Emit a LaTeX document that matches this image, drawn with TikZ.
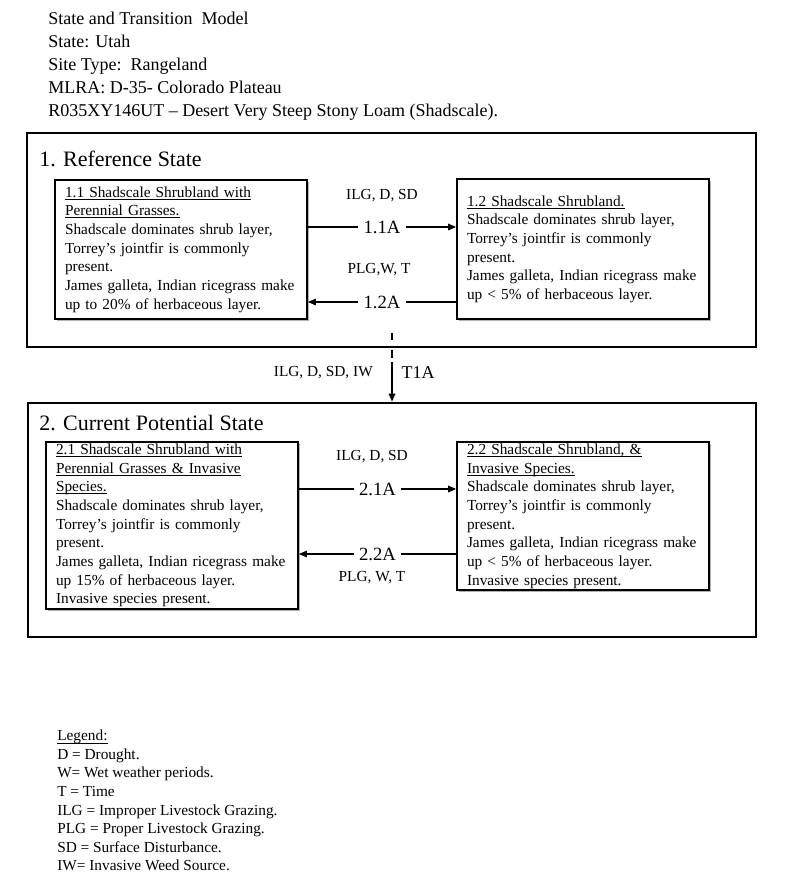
\documentclass[tikz,border=0pt]{standalone}
\usepackage{fontspec}
\setmainfont{Liberation Serif}
\usetikzlibrary{arrows.meta}
\usetikzlibrary{shadows}

\newcommand{\phaseul}[1]{\underline{\smash{#1}}\vphantom{#1}}

\tikzset{
  outerstate/.style={draw, line width=2.2pt, inner sep=0pt},
  statetitle/.style={anchor=west, inner sep=0pt, font=\fontsize{16.5}{20}\selectfont},
  phasebox/.style={draw, line width=1.4pt, fill=white, align=left, text width=174pt,
    inner xsep=7.5pt, inner ysep=1pt, font=\fontsize{11.5}{14}\selectfont,
    drop shadow={shadow xshift=1.6pt, shadow yshift=-1.6pt, fill=black, opacity=.3}},
  pathway/.style={line width=0.8pt, -{Triangle[length=6pt,width=5pt]}},
  pathcode/.style={fill=white, inner xsep=4pt, inner ysep=1pt, font=\fontsize{14}{16}\selectfont},
  pathcause/.style={inner sep=0pt, font=\fontsize{11.5}{14}\selectfont},
}

\begin{document}
\begin{tikzpicture}[x=0.75pt,y=-0.75pt]
            \fill[white] (0,0) rectangle (800,896);
            \useasboundingbox (0,0) rectangle (800,896);
            % header
            \node[anchor=north west, align=left, inner sep=0pt, font=\fontsize{13.5}{17.25}\selectfont] (header) at (48,12)
              {State and Transition\ \ Model\\State: Utah\\Site Type:\ \ Rangeland\\MLRA: D-35- Colorado Plateau\\R035XY146UT -- Desert Very Steep Stony Loam (Shadscale).};
            % states
            \node[outerstate, minimum width=546.75pt, minimum height=160.5pt] (refstate) at (391.5,240) {};
            \node[statetitle] (reftitle) at (39,159) {1. Reference State};
            \node[outerstate, minimum width=546pt, minimum height=175.5pt] (curstate) at (392,520) {};
            \node[statetitle] (curtitle) at (39,423) {2. Current Potential State};
            % community phases
            \node[phasebox, minimum height=104.25pt] (p11) at (181,249.5) {\phaseul{1.1 Shadscale Shrubland with}\\\phaseul{Perennial Grasses.}\\Shadscale dominates shrub layer,\\Torrey’s jointfir is commonly\\present.\\James galleta, Indian ricegrass make\\up to 20\% of herbaceous layer.};
            \node[phasebox, minimum height=105pt] (p12) at (583,249) {\phaseul{1.2 Shadscale Shrubland.}\\Shadscale dominates shrub layer,\\Torrey’s jointfir is commonly\\present.\\James galleta, Indian ricegrass make\\up < 5\% of herbaceous layer.};
            \node[phasebox, minimum height=125.25pt] (p21) at (172,525.5) {\phaseul{2.1 Shadscale Shrubland with}\\\phaseul{Perennial Grasses \& Invasive}\\\phaseul{Species.}\\Shadscale dominates shrub layer,\\Torrey’s jointfir is commonly\\present.\\James galleta, Indian ricegrass make\\up 15\% of herbaceous layer.\\Invasive species present.};
            \node[phasebox, minimum height=111pt] (p22) at (583,516) {\phaseul{2.2 Shadscale Shrubland, \&}\\\phaseul{Invasive Species.}\\Shadscale dominates shrub layer,\\Torrey’s jointfir is commonly\\present.\\James galleta, Indian ricegrass make\\up < 5\% of herbaceous layer.\\Invasive species present.};
            % pathways
            \draw[pathway] (p11.east |- 0,227) -- node[pathcode]{1.1A} (p12.west |- 0,227);
            \draw[pathway] (p12.west |- 0,302) -- node[pathcode] (c12){1.2A} (p11.east |- 0,302);
            \draw[line width=1.5pt] (c12.east) -- (p12.west |- c12);
            \node[pathcause] (k11) at (382,196) {ILG, D, SD};
            \node[pathcause] (k12) at (379,270) {PLG,W, T};
            \draw[pathway] (p21.east |- 0,489) -- node[pathcode]{2.1A} (p22.west |- 0,489);
            \draw[pathway] (p22.west |- 0,554) -- node[pathcode]{2.2A} (p21.east |- 0,554);
            \node[pathcause] (k21) at (372,457) {ILG, D, SD};
            \node[pathcause] (k22) at (372,578) {PLG, W, T};
            % transition
            \coordinate (t1top) at (392,333);
            \coordinate (t1mid) at (392,362);
            \draw[line width=1.2pt, dash pattern=on 5.5pt off 7.5pt] (t1top) -- (t1mid);
            \draw[pathway, line width=1.2pt] (t1mid) -- (curstate.north);
            \node[pathcause, anchor=east] (kt1) at (373,373) {ILG, D, SD, IW};
            \node[inner sep=0pt, font=\fontsize{13.5}{16}\selectfont] (ct1) at (418,373) {T1A};
            % legend
            \node[anchor=north west, align=left, inner sep=0pt, font=\fontsize{11.5}{13.9}\selectfont] (legend) at (57,730)
              {\phaseul{Legend:}\\D = Drought.\\W= Wet weather periods.\\T = Time\\ILG = Improper Livestock Grazing.\\PLG = Proper Livestock Grazing.\\SD = Surface Disturbance.\\IW= Invasive Weed Source.};
\end{tikzpicture}
\end{document}
